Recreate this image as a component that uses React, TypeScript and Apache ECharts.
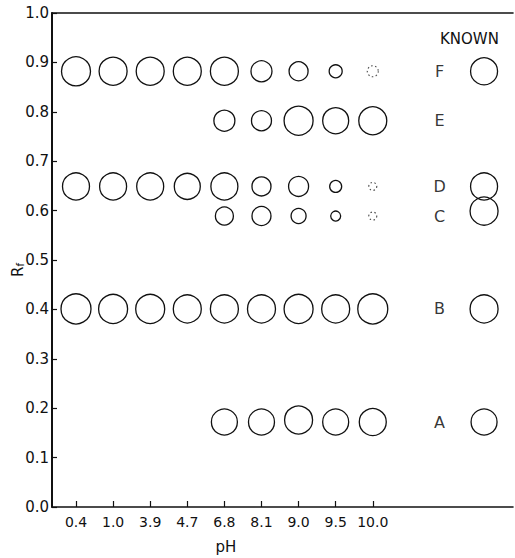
import React, { useEffect, useRef } from "react";
import * as echarts from "echarts";

const phLabels = ["0.4", "1.0", "3.9", "4.7", "6.8", "8.1", "9.0", "9.5", "10.0"];

const spotLetters = ["F", "E", "D", "C", "B", "A"];
const spotRf = [0.882, 0.782, 0.649, 0.589, 0.401, 0.172];

// spot diameters (px) per pH column, null = absent
const sizeF = [29, 28, 28, 28, 28, 21, 19, 13, 11];
const sizeE = [null, null, null, null, 21, 20, 29, 26, 28];
const sizeD = [27, 27, 27, 26, 27, 19, 20, 12, 8];
const sizeC = [null, null, null, null, 18, 19, 15, 10, 8];
const sizeB = [30, 29, 29, 28, 28, 28, 29, 28, 30];
const sizeA = [null, null, null, null, 26, 26, 28, 26, 27];
const rfA = [null, null, null, null, 0.172, 0.172, 0.176, 0.172, 0.172];

// faint (dotted) spots: [spot, pH column]
const faintSpots: [string, number][] = [["F", 8], ["D", 8], ["C", 8]];

// known standards
const knownRf = [0.882, null, 0.649, 0.599, 0.401, 0.172];
const knownSize = [27, null, 27, 28, 28, 26];
const knownColumn = 11;
const letterColumn = 9.8;

const INK = "#111111";
const FONT = "DejaVu Sans";

export default function App() {
  const ref = useRef<HTMLDivElement>(null);
  useEffect(() => {
    if (!ref.current) return;
    const chart = echarts.init(ref.current, null, { renderer: "svg" });
    const sizes = [sizeF, sizeE, sizeD, sizeC, sizeB, sizeA];
    const circleStyle = {
      color: "rgba(0,0,0,0)",
      borderColor: INK,
      borderWidth: 1.3,
      opacity: 1,
    };
    const spotSeries = spotLetters.map((letter, si) => {
      const data: any[] = [];
      sizes[si].forEach((d, ci) => {
        if (d == null) return;
        const rf = letter === "A" ? (rfA[ci] as number) : spotRf[si];
        const faint = faintSpots.some(([s, c]) => s === letter && c === ci);
        data.push({
          value: [ci, rf, d],
          itemStyle: faint ? { borderType: [1.5, 2.5], borderWidth: 1.1, borderColor: "#444" } : undefined,
        });
      });
      return {
        type: "scatter",
        name: letter,
        xAxisIndex: 0,
        data,
        symbol: "circle",
        symbolSize: (v: number[]) => v[2],
        itemStyle: circleStyle,
        silent: true,
      };
    });
    const knownData: any[] = [];
    knownRf.forEach((rf, i) => {
      if (rf == null) return;
      knownData.push([knownColumn, rf, knownSize[i] as number]);
    });
    const letterData = spotLetters.map((l, i) => ({ value: [letterColumn, spotRf[i]], name: l }));

    chart.setOption({
      animation: false,
      grid: { left: 52, right: 2, top: 13, bottom: 51 },
      xAxis: [
        {
          type: "value",
          min: -0.647,
          max: 11.78,
          axisLine: { show: true, onZero: false, lineStyle: { color: INK, width: 1.6 } },
          axisTick: {
            show: true,
            inside: true,
            length: 6,
            customValues: [0, 1, 2, 3, 4, 5, 6, 7, 8],
            lineStyle: { color: INK, width: 1.2 },
          },
          axisLabel: {
            show: true,
            customValues: [0, 1, 2, 3, 4, 5, 6, 7, 8],
            formatter: (v: number) => phLabels[Math.round(v)] ?? "",
            color: INK,
            fontFamily: FONT,
            fontSize: 14,
            margin: 8,
          },
          splitLine: { show: false },
        },
        {
          type: "value",
          position: "top",
          min: -0.647,
          max: 11.78,
          axisLine: { show: true, onZero: false, lineStyle: { color: INK, width: 1.6 } },
          axisTick: { show: false },
          axisLabel: { show: false },
          splitLine: { show: false },
        },
      ],
      yAxis: {
        type: "value",
        min: 0,
        max: 1,
        interval: 0.1,
        axisLine: { show: true, onZero: false, lineStyle: { color: INK, width: 2 } },
        axisTick: { show: true, inside: true, length: 5, lineStyle: { color: INK, width: 1.2 } },
        axisLabel: {
          color: INK,
          fontFamily: FONT,
          fontSize: 15,
          margin: 3,
          formatter: (v: number) => v.toFixed(1),
        },
        splitLine: { show: false },
      },
      series: [
        ...spotSeries,
        {
          type: "scatter",
          name: "known",
          xAxisIndex: 0,
          data: knownData,
          symbol: "circle",
          symbolSize: (v: number[]) => v[2],
          itemStyle: circleStyle,
          silent: true,
        },
        {
          type: "scatter",
          name: "letters",
          xAxisIndex: 0,
          data: letterData,
          symbolSize: 1,
          itemStyle: { color: "rgba(0,0,0,0)" },
          silent: true,
          label: {
            show: true,
            position: "inside",
            formatter: (p: any) => p.name,
            color: "#000",
            fontFamily: FONT,
            fontWeight: 500,
            fontSize: 16,
          },
        },
      ],
      graphic: [
        {
          type: "text",
          x: 440,
          y: 31,
          style: { text: "KNOWN", fill: INK, font: `15px "${FONT}"` },
        },
        {
          type: "text",
          x: 226,
          y: 547,
          style: { text: "pH", fill: INK, font: `15px "${FONT}"`, textAlign: "center", textVerticalAlign: "middle" },
        },
        {
          type: "text",
          x: 18,
          y: 270,
          rotation: Math.PI / 2,
          style: {
            text: "{r|R}{s|f}",
            textAlign: "center",
            textVerticalAlign: "middle",
            rich: {
              r: { fontSize: 15, fontFamily: FONT, fill: INK, color: INK },
              s: { fontSize: 10, fontFamily: FONT, fill: INK, color: INK, verticalAlign: "bottom" },
            },
          },
        },
      ],
    });
    return () => chart.dispose();
  }, []);
  return (
    <div
      ref={ref}
      style={{ position: "fixed", left: 0, top: 0, width: 515, height: 558, background: "#fff" }}
    />
  );
}
